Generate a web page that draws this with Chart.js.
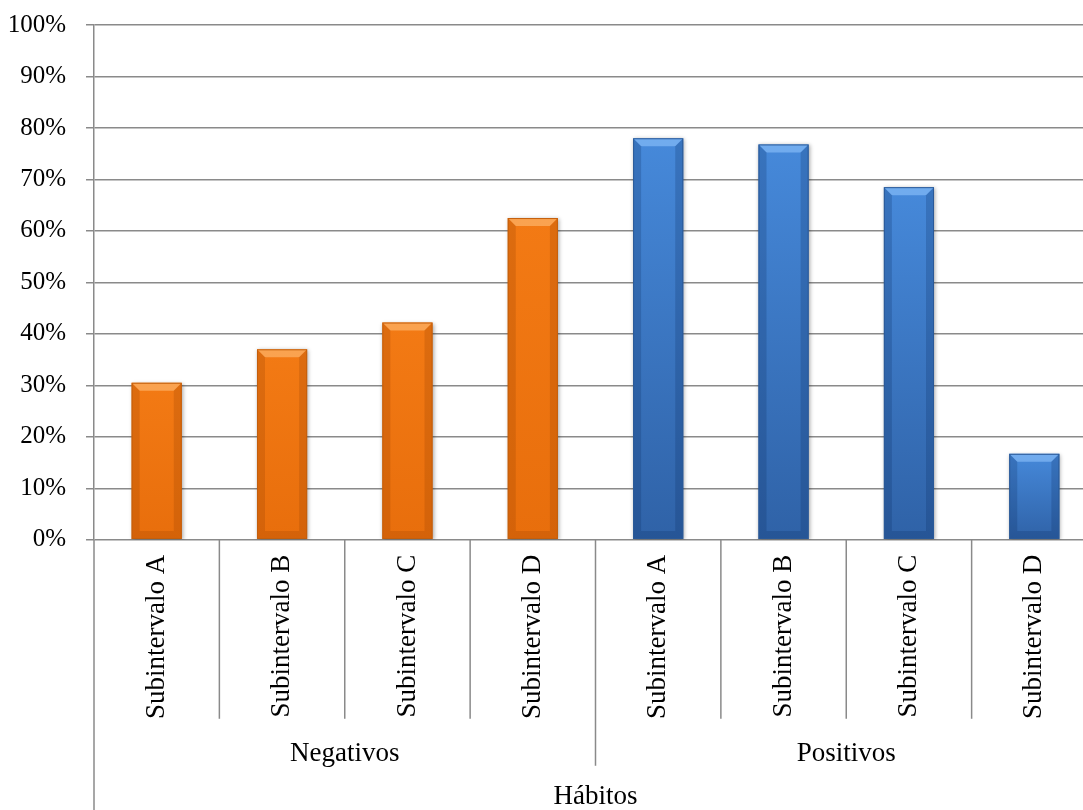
<!DOCTYPE html>
<html>
<head>
<meta charset="utf-8">
<script src="https://cdn.jsdelivr.net/npm/chart.js@4.4.1/dist/chart.umd.min.js"></script>
<style>
  html, body { margin: 0; padding: 0; background: #fff; overflow: hidden; }
  #wrap { width: 1100px; height: 810px; }
</style>
</head>
<body>
<div id="wrap"><canvas id="habitsChart" width="1100" height="810"></canvas></div>
<script>
const subLabels = ["Subintervalo A", "Subintervalo B", "Subintervalo C", "Subintervalo D",
                   "Subintervalo A", "Subintervalo B", "Subintervalo C", "Subintervalo D"];
const groupNames = ["Negativos", "Positivos"];
const groupSize = 4;
const percentValues = [30.5, 37.0, 42.2, 62.5, 78.0, 76.8, 68.5, 16.7];
const yTicks = [0, 10, 20, 30, 40, 50, 60, 70, 80, 90, 100];
const axisTitle = "Hábitos";

const FONT_FAMILY = "'Liberation Serif', 'Times New Roman', serif";
const GRID = "#8a8a8a";

// per-group palette: base fill top/bottom, bevel highlight, edge shade
const palettes = [
  { top: "#f37a14", bottom: "#e86e0c", light: "rgba(255,190,120,0.6)", edge: "rgba(140,60,0,0.22)", line: "#c45f0c" },
  { top: "#4689da", bottom: "#2f62a7", light: "rgba(150,200,255,0.55)", edge: "rgba(10,40,90,0.22)", line: "#2b5a98" }
];

function paletteFor(i) {
  return palettes[Math.floor(i / groupSize)];
}

// vertical gradient spanning each individual bar
function barFill(c) {
  const { chart, dataIndex } = c;
  const yScale = chart.scales.y;
  const pal = paletteFor(dataIndex);
  if (!yScale || !chart.chartArea) return pal.top;
  const top = yScale.getPixelForValue(percentValues[dataIndex]);
  const base = yScale.getPixelForValue(0);
  const g = chart.ctx.createLinearGradient(0, top, 0, base);
  g.addColorStop(0, pal.top);
  g.addColorStop(1, pal.bottom);
  return g;
}

// soft drop shadow under bars plus a bevelled edge on top of them
const bevelPlugin = {
  id: "bevel",
  beforeDatasetsDraw(chart) {
    const ctx = chart.ctx;
    ctx.save();
    ctx.shadowColor = "rgba(0,0,0,0.35)";
    ctx.shadowBlur = 4;
    ctx.shadowOffsetX = 1;
    ctx.shadowOffsetY = 1;
  },
  afterDatasetsDraw(chart) {
    const ctx = chart.ctx;
    ctx.restore();
    const meta = chart.getDatasetMeta(0);
    const b = 8;
    meta.data.forEach((bar, i) => {
      const pal = paletteFor(i);
      const { x, y, base, width } = bar.getProps(["x", "y", "base", "width"], true);
      const l = x - width / 2, r = x + width / 2;
      ctx.save();
      // top face highlight
      ctx.fillStyle = pal.light;
      ctx.beginPath();
      ctx.moveTo(l, y); ctx.lineTo(r, y); ctx.lineTo(r - b, y + b); ctx.lineTo(l + b, y + b);
      ctx.closePath(); ctx.fill();
      // side and bottom shading
      ctx.fillStyle = pal.edge;
      ctx.beginPath();
      ctx.moveTo(l, y); ctx.lineTo(l + b, y + b); ctx.lineTo(l + b, base - b); ctx.lineTo(l, base);
      ctx.closePath(); ctx.fill();
      ctx.beginPath();
      ctx.moveTo(r, y); ctx.lineTo(r - b, y + b); ctx.lineTo(r - b, base - b); ctx.lineTo(r, base);
      ctx.closePath(); ctx.fill();
      ctx.beginPath();
      ctx.moveTo(l, base); ctx.lineTo(l + b, base - b); ctx.lineTo(r - b, base - b); ctx.lineTo(r, base);
      ctx.closePath(); ctx.fill();
      ctx.strokeStyle = pal.line;
      ctx.lineWidth = 1;
      ctx.strokeRect(l + 0.5, y + 0.5, width - 1, base - y - 1);
      ctx.restore();
    });
  }
};

// category dividers under the axis, group labels and the extended y axis line
const groupAxisPlugin = {
  id: "groupAxis",
  afterDraw(chart) {
    const { ctx, chartArea, scales } = chart;
    const xs = scales.x;
    const n = subLabels.length;
    const bottom = chartArea.bottom;
    ctx.save();
    ctx.strokeStyle = GRID;
    ctx.lineWidth = 1.5;
    for (let i = 1; i < n; i++) {
      const px = (xs.getPixelForValue(i - 1) + xs.getPixelForValue(i)) / 2;
      const end = i % groupSize === 0 ? bottom + 226 : bottom + 179;
      ctx.beginPath();
      ctx.moveTo(px, bottom);
      ctx.lineTo(px, end);
      ctx.stroke();
    }
    ctx.beginPath();
    ctx.moveTo(chartArea.left, bottom);
    ctx.lineTo(chartArea.left, chart.height);
    ctx.stroke();

    ctx.fillStyle = "#000";
    ctx.font = "27px " + FONT_FAMILY;
    ctx.textAlign = "center";
    ctx.textBaseline = "middle";
    groupNames.forEach((name, g) => {
      const first = xs.getPixelForValue(g * groupSize);
      const last = xs.getPixelForValue(g * groupSize + groupSize - 1);
      ctx.fillText(name, (first + last) / 2, bottom + 214);
    });
    ctx.restore();
  }
};

new Chart(document.getElementById("habitsChart"), {
  type: "bar",
  data: {
    labels: subLabels,
    datasets: [{
      data: percentValues,
      backgroundColor: barFill,
      borderWidth: 0,
      barPercentage: 0.4,
      categoryPercentage: 1.0
    }]
  },
  options: {
    responsive: false,
    animation: false,
    layout: { padding: { left: 8, top: 25, right: 3, bottom: 0 } },
    plugins: {
      legend: { display: false },
      tooltip: { enabled: false }
    },
    scales: {
      x: {
        offset: true,
        grid: { display: false, drawTicks: false },
        border: { display: false },
        ticks: {
          color: "#000",
          font: { family: FONT_FAMILY, size: 27 },
          minRotation: 90,
          maxRotation: 90,
          autoSkip: false,
          padding: 15
        },
        title: {
          display: true,
          text: axisTitle,
          color: "#000",
          font: { family: FONT_FAMILY, size: 27, lineHeight: 1 },
          padding: { top: 49, bottom: 0 }
        }
      },
      y: {
        min: yTicks[0],
        max: yTicks[yTicks.length - 1],
        afterBuildTicks(scale) {
          scale.ticks = yTicks.map(v => ({ value: v }));
        },
        afterFit(scale) {
          scale.width = 86;
          scale.paddingTop = 0;
          scale.paddingBottom = 0;
        },
        grid: { color: GRID, lineWidth: 1.5, tickLength: 8 },
        border: { color: GRID, width: 1.5 },
        ticks: {
          color: "#000",
          font: { family: FONT_FAMILY, size: 25 },
          padding: 20,
          callback: v => v + "%"
        }
      }
    }
  },
  plugins: [bevelPlugin, groupAxisPlugin]
});
</script>
</body>
</html>
